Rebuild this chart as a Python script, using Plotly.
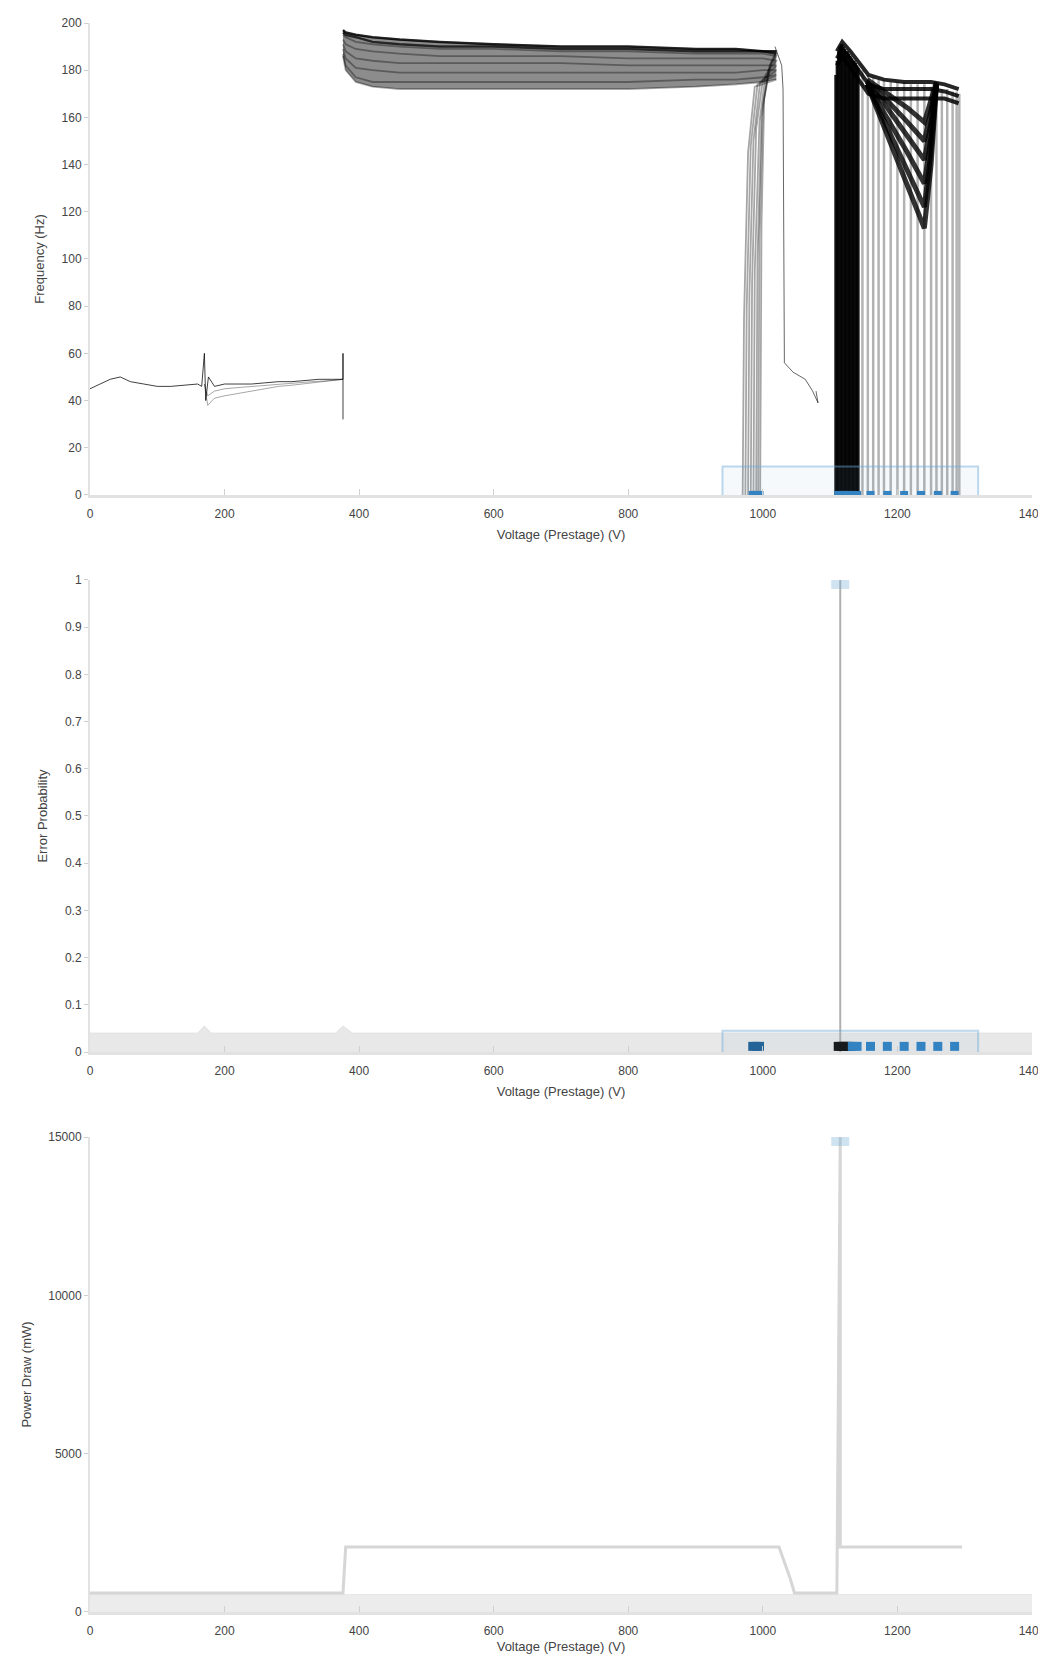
import plotly.graph_objects as go

# ---------------- data ----------------
x_ticks = [0, 200, 400, 600, 800, 1000, 1200, 1400]

# top panel: low-frequency segment
low_x = [0, 15, 30, 45, 60, 80, 100, 120, 140, 160, 166, 170, 172, 176, 185, 200, 220, 240, 260, 280, 300, 320, 340, 360, 376, 376, 376]
low_y = [45, 47, 49, 50, 48, 47, 46, 46, 46.5, 47, 46, 60, 40, 50, 46, 47, 47, 47, 47.5, 48, 48, 48.5, 49, 49, 49, 60, 32]
low_alt_x = [170, 175, 185, 200, 220, 240, 260, 280, 300, 330, 360, 376]
low_alt1_y = [47, 38, 41, 42, 43, 44, 45, 46, 46.5, 47.5, 48.5, 49]
low_alt2_y = [47, 42, 44, 45, 45.5, 46, 46.5, 47, 47.5, 48, 48.5, 49]

# top panel: high plateau traces
plateau_x = [376, 380, 395, 420, 460, 520, 600, 700, 800, 900, 960, 1000, 1020]
plateau_1 = [197, 196, 195, 194, 193, 192, 191, 190, 190, 189, 189, 188, 188]
plateau_2 = [196, 195, 194, 192, 191, 190, 190, 189, 189, 188, 188, 188, 187]
plateau_3 = [195, 194, 192, 191, 190, 189, 189, 188, 188, 187, 187, 187, 186]
plateau_4 = [193, 191, 189, 188, 187, 186, 186, 186, 185, 185, 185, 185, 184]
plateau_5 = [191, 188, 185, 184, 183, 183, 183, 183, 182, 182, 182, 182, 182]
plateau_6 = [189, 185, 181, 180, 179, 179, 179, 179, 179, 179, 179, 180, 180]
plateau_7 = [187, 182, 177, 175, 175, 175, 175, 175, 175, 176, 176, 177, 178]
plateau_8 = [186, 180, 175, 173, 172, 172, 172, 172, 172, 173, 174, 175, 176]
tail_1 = ([1012, 1002, 998, 996], [183, 168, 115, 0])
tail_2 = ([1010, 1000, 995, 993], [182, 165, 110, 0])
tail_3 = ([1008, 998, 992, 990], [180, 160, 100, 0])
tail_4 = ([1004, 995, 988, 986], [178, 158, 95, 0])
tail_5 = ([1000, 990, 984, 982], [176, 155, 90, 0])
tail_6 = ([996, 986, 980, 978], [175, 150, 85, 0])
tail_7 = ([992, 982, 976, 974], [174, 148, 80, 0])
tail_8 = ([988, 978, 972, 970], [173, 145, 75, 0])

# thin descending line after plateau
thin_x = [1018, 1028, 1030, 1032, 1045, 1063, 1074, 1082, 1079]
thin_y = [190, 182, 172, 56, 52, 49, 44, 39, 44]

# second cluster (dense vertical strokes)
dense_x = [1108, 1110, 1112, 1114, 1116, 1118, 1120, 1122, 1124, 1126, 1128, 1130, 1132, 1134, 1136, 1138, 1140, 1142]
dense_top = [178, 184, 188, 190, 191, 191, 190, 189, 188, 188, 187, 186, 185, 184, 184, 183, 182, 181]
sparse_x = [1148, 1156, 1164, 1172, 1180, 1190, 1200, 1210, 1220, 1230, 1240, 1250, 1258, 1266, 1274, 1282, 1288, 1292]
sparse_top = [180, 178, 177, 176, 176, 175, 175, 175, 174, 174, 174, 173, 173, 172, 172, 171, 171, 170]
ridge_x = [1110, 1118, 1130, 1157, 1180, 1210, 1250, 1270, 1291]
ridge_1 = [188, 192, 188, 178, 176, 175, 175, 174, 172]
ridge_2 = [185, 189, 185, 174, 172, 172, 172, 171, 169]
ridge_3 = [182, 186, 181, 170, 168, 168, 168, 168, 166]
dip_x = [1155, 1185, 1215, 1240, 1250, 1258]
dip_1 = [174, 152, 130, 113, 140, 174]
dip_2 = [174, 156, 138, 122, 146, 174]
dip_3 = [174, 160, 145, 132, 152, 174]
dip_4 = [175, 164, 152, 142, 158, 174]
dip_5 = [175, 167, 158, 150, 163, 174]
dip_6 = [176, 170, 164, 158, 168, 175]

# highlighted points on the axis
mark_x = [985, 990, 995, 1112, 1116, 1120, 1124, 1128, 1133, 1140, 1160, 1185, 1210, 1235, 1260, 1285]

# middle panel
mid_band_x = [0, 160, 170, 180, 365, 376, 390, 1400]
mid_band_y = [0.04, 0.04, 0.055, 0.04, 0.04, 0.055, 0.04, 0.04]
mid_spike_x = [1115, 1115]
mid_spike_y = [0, 1.0]
mid_ticks = [0, 0.1, 0.2, 0.3, 0.4, 0.5, 0.6, 0.7, 0.8, 0.9, 1.0]

# bottom panel
bot_x = [0, 100, 200, 300, 376, 380, 500, 700, 900, 1000, 1024, 1040, 1047, 1080, 1110, 1115, 1115, 1118, 1200, 1296]
bot_y = [600, 600, 600, 600, 600, 2050, 2050, 2050, 2050, 2050, 2050, 1100, 600, 600, 600, 15000, 2050, 2050, 2050, 2050]
bot_band_x = [0, 1400]
bot_band_y = [550, 550]
bot_ticks = [0, 5000, 10000, 15000]

# ---------------- figure ----------------
fig = go.Figure()

def line(x, y, xa, ya, color, width=1.0, **kw):
    fig.add_trace(go.Scatter(x=x, y=y, xaxis=xa, yaxis=ya, mode="lines",
                             line=dict(color=color, width=width), showlegend=False, hoverinfo="skip", **kw))

# top panel
line(low_alt_x, low_alt1_y, "x", "y", "rgba(0,0,0,0.35)")
line(low_alt_x, low_alt2_y, "x", "y", "rgba(0,0,0,0.35)")
line(low_x, low_y, "x", "y", "rgba(0,0,0,0.75)")

# shaded band between lowest and highest plateau traces
line(plateau_x, plateau_8, "x", "y", "rgba(0,0,0,0)", 0)
line(plateau_x, plateau_1, "x", "y", "rgba(0,0,0,0)", 0, fill="tonexty", fillcolor="rgba(0,0,0,0.45)")
plateaus = [plateau_1, plateau_2, plateau_3, plateau_4, plateau_5, plateau_6, plateau_7, plateau_8]
tails = [tail_1, tail_2, tail_3, tail_4, tail_5, tail_6, tail_7, tail_8]
for p, t in zip(plateaus, tails):
    line(plateau_x + t[0], p + t[1], "x", "y", "rgba(0,0,0,0.35)", 1.8)
line(plateau_x, plateau_1, "x", "y", "rgba(0,0,0,0.8)", 2.5)
line(plateau_x, plateau_2, "x", "y", "rgba(0,0,0,0.6)", 2.5)
line(thin_x, thin_y, "x", "y", "rgba(0,0,0,0.6)")

dxs, dys = [], []
for x, t in zip(dense_x, dense_top):
    dxs += [x, x, None]
    dys += [0, t, None]
line(dxs, dys, "x", "y", "rgba(0,0,0,0.9)", 2.5)
sxs, sys_ = [], []
for x, t in zip(sparse_x, sparse_top):
    sxs += [x, x, None]
    sys_ += [0, t, None]
line(sxs, sys_, "x", "y", "rgba(0,0,0,0.3)", 2.5)
for r in [ridge_1, ridge_2, ridge_3]:
    line(ridge_x, r, "x", "y", "rgba(0,0,0,0.85)", 4)
for d in [dip_1, dip_2, dip_3, dip_4, dip_5, dip_6]:
    line(dip_x, d, "x", "y", "rgba(0,0,0,0.8)", 5)

fig.add_trace(go.Scatter(x=mark_x, y=[0] * len(mark_x), xaxis="x", yaxis="y", mode="markers",
                         marker=dict(color="#2f7fc1", size=8, symbol="square"),
                         showlegend=False, hoverinfo="skip"))

# middle panel
fig.add_trace(go.Scatter(x=mid_band_x, y=mid_band_y, xaxis="x2", yaxis="y2", mode="lines",
                         fill="tozeroy", fillcolor="#e8e8e8", line=dict(color="#e0e0e0", width=1),
                         showlegend=False, hoverinfo="skip"))
line(mid_spike_x, mid_spike_y, "x2", "y2", "#b0b0b0", 2)
fig.add_trace(go.Scatter(x=[mid_spike_x[-1]], y=[mid_spike_y[-1]], xaxis="x2", yaxis="y2", mode="markers",
                         marker=dict(color="rgba(120,175,215,0.35)", size=18, symbol="square"),
                         showlegend=False, hoverinfo="skip"))
fig.add_trace(go.Scatter(x=mark_x, y=[0.012] * len(mark_x), xaxis="x2", yaxis="y2", mode="markers",
                         marker=dict(color=["#1f5f95"] * 3 + ["#111111"] * 5 + ["#2f7fc1"] * 8, size=9, symbol="square"),
                         showlegend=False, hoverinfo="skip"))

# bottom panel
fig.add_trace(go.Scatter(x=bot_band_x, y=bot_band_y, xaxis="x3", yaxis="y3", mode="lines",
                         fill="tozeroy", fillcolor="#ececec", line=dict(color="#e6e6e6", width=1),
                         showlegend=False, hoverinfo="skip"))
line(bot_x, bot_y, "x3", "y3", "#d6d6d6", 3)
fig.add_trace(go.Scatter(x=[1115], y=[15000], xaxis="x3", yaxis="y3", mode="markers",
                         marker=dict(color="rgba(120,175,215,0.35)", size=18, symbol="square"),
                         showlegend=False, hoverinfo="skip"))

# highlight boxes around marked points
for xr, yr, y0, y1 in [("x", "y", -6, 12), ("x2", "y2", -0.035, 0.045)]:
    fig.add_shape(type="rect", xref=xr, yref=yr, x0=min(mark_x) - 45, x1=max(mark_x) + 35, y0=y0, y1=y1,
                  line=dict(color="rgba(110,170,215,0.45)", width=2), fillcolor="rgba(110,170,215,0.07)")

tick_font = dict(family="Liberation Sans, Arial, sans-serif", size=12, color="#444")
title_font = dict(family="Liberation Sans, Arial, sans-serif", size=13, color="#444")
xtitle = "Voltage (Prestage) (V)"

doms = [[0.703, 1.0], [0.3524, 0.6495], [0.0, 0.2989]]
ytitles = ["Frequency (Hz)", "Error Probability", "Power Draw (mW)"]
yranges = [[0, 200], [0, 1.0], [0, 15000]]
ytickvals = [list(range(0, 201, 20)), mid_ticks, bot_ticks]

layout = dict(width=1030, height=1646, plot_bgcolor="white", paper_bgcolor="white",
              margin=dict(l=82, r=6, t=15, b=42, autoexpand=False), showlegend=False)
for i in range(3):
    sx = "" if i == 0 else str(i + 1)
    layout["xaxis" + sx] = dict(domain=[0, 1], anchor="y" + sx, range=[0, 1400], tickvals=x_ticks,
                                automargin=False,
                                showgrid=False, zeroline=False, showline=True, linecolor="#e2e2e2", linewidth=3,
                                ticks="inside", ticklen=6, tickcolor="#cfcfcf", tickfont=tick_font,
                                ticklabelstandoff=6, ticklabeloverflow="allow",
                                title=dict(text=xtitle, font=title_font, standoff=10))
    layout["yaxis" + sx] = dict(domain=doms[i], anchor="x" + sx, range=yranges[i], tickvals=ytickvals[i],
                                automargin=False,
                                tickformat="d" if i != 1 else None,
                                showgrid=False, zeroline=False, showline=True, linecolor="#e2e2e2", linewidth=2,
                                ticks="outside", ticklen=4, tickcolor="#cfcfcf", tickfont=tick_font,
                                title=dict(text=ytitles[i], font=title_font, standoff=14))
fig.update_layout(**layout)

fig.write_html("out.html")
